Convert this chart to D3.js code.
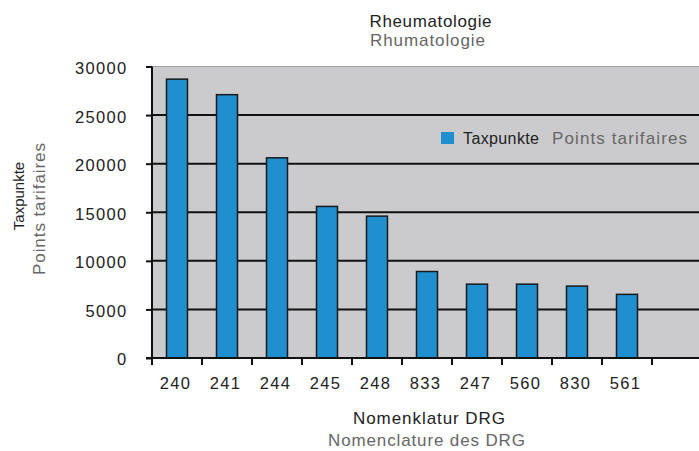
<!DOCTYPE html>
<html>
<head>
<meta charset="utf-8">
<script src="https://cdn.jsdelivr.net/npm/d3@7"></script>
<style>
  body { margin: 0; background: #fff; }
  text { font-family: "Liberation Sans", Arial, sans-serif; }
</style>
</head>
<body>
<div id="chart"></div>
<script>
// data
var drgCodes = ["240", "241", "244", "245", "248", "833", "247", "560", "830", "561"];
var taxpunkte = [28700, 27100, 20600, 15600, 14600, 8900, 7600, 7600, 7400, 6550];
var yTicks = [0, 5000, 10000, 15000, 20000, 25000, 30000];

var width = 699, height = 451;
var plotLeft = 152, plotRight = 699, plotTop = 66.5, plotBottom = 358;

var svg = d3.select("#chart")
    .append("svg")
    .attr("width", width)
    .attr("height", height);

var x = d3.scaleBand()
    .domain(drgCodes)
    .range([plotLeft, plotLeft + 500])
    .paddingInner(0.58)
    .paddingOuter(0.29);

var y = d3.scaleLinear()
    .domain([0, 30000])
    .range([plotBottom, plotTop]);

// plot background
svg.append("rect")
    .attr("x", plotLeft)
    .attr("y", plotTop)
    .attr("width", plotRight - plotLeft)
    .attr("height", plotBottom - plotTop)
    .attr("fill", "#cbcbcd");

svg.append("line")
    .attr("x1", plotLeft).attr("x2", plotRight)
    .attr("y1", plotTop).attr("y2", plotTop)
    .attr("stroke", "#a0a0a2").attr("stroke-width", 1);

// gridlines
svg.selectAll(".grid")
    .data(yTicks.filter(function (d) { return d > 0 && d < 30000; }))
    .enter()
    .append("line")
    .attr("class", "grid")
    .attr("x1", plotLeft).attr("x2", plotRight)
    .attr("y1", function (d) { return y(d); })
    .attr("y2", function (d) { return y(d); })
    .attr("stroke", "#111")
    .attr("stroke-width", 2);

// bars
svg.selectAll(".bar")
    .data(drgCodes)
    .enter()
    .append("rect")
    .attr("class", "bar")
    .attr("x", function (d) { return x(d); })
    .attr("y", function (d, i) { return y(taxpunkte[i]); })
    .attr("width", x.bandwidth())
    .attr("height", function (d, i) { return plotBottom - y(taxpunkte[i]); })
    .attr("fill", "#1f8fd0")
    .attr("stroke", "#1a1a1a")
    .attr("stroke-width", 1.5);

// y axis
var yAxis = svg.append("g")
    .attr("transform", "translate(" + plotLeft + ",0)")
    .call(d3.axisLeft(y).tickValues(yTicks).tickSize(6).tickPadding(18.5)
        .tickFormat(d3.format("d")));
yAxis.select(".domain").attr("stroke", "#111").attr("stroke-width", 2)
    .attr("d", "M0," + plotTop + "V" + plotBottom);
yAxis.selectAll(".tick line").attr("stroke", "#111").attr("stroke-width", 2);
yAxis.selectAll(".tick text")
    .attr("font-size", 16.5)
    .attr("dy", "0.42em")
    .attr("fill", "#222")
    .style("letter-spacing", "1.3px")
    .style("font-family", "Liberation Sans, Arial, sans-serif");

// x axis: ticks at band edges
var edges = drgCodes.map(function (d) { return x(d) - x.step() * 0.29; });
edges.push(plotLeft + 500);
var xAxis = svg.append("g");
xAxis.append("line")
    .attr("x1", plotLeft - 6).attr("x2", plotRight)
    .attr("y1", plotBottom).attr("y2", plotBottom)
    .attr("stroke", "#111").attr("stroke-width", 2);
xAxis.selectAll(".xt")
    .data(edges)
    .enter()
    .append("line")
    .attr("x1", function (d) { return d; })
    .attr("x2", function (d) { return d; })
    .attr("y1", plotBottom).attr("y2", plotBottom + 7)
    .attr("stroke", "#111").attr("stroke-width", 2);
xAxis.selectAll(".xl")
    .data(drgCodes)
    .enter()
    .append("text")
    .attr("x", function (d) { return x(d) + x.bandwidth() / 2 - 1.5; })
    .attr("y", 389)
    .attr("text-anchor", "middle")
    .attr("font-size", 16.5)
    .attr("fill", "#222")
    .style("letter-spacing", "1.3px")
    .text(function (d) { return d; });

// helper for fitted labels
function label(parent, xp, yp, txt, len, col, size) {
    var t = parent.append("text")
        .attr("x", xp).attr("y", yp)
        .attr("text-anchor", "middle")
        .attr("font-size", size || 17)
        .attr("fill", col)
        .text(txt);
    if (len) t.attr("textLength", len).attr("lengthAdjust", "spacing");
    return t;
}

// chart title
label(svg, 430.5, 27, "Rheumatologie", 122, "#222");
label(svg, 427.5, 45.5, "Rhumatologie", 115, "#666");

// x axis title
label(svg, 429, 424, "Nomenklatur DRG", 152, "#222");
label(svg, 426.5, 446, "Nomenclature des DRG", 197, "#666");

// y axis title
var yt = svg.append("g").attr("transform", "rotate(-90)");
label(yt, -196, 24, "Taxpunkte", null, "#222", 15);
label(yt, -209, 45, "Points tarifaires", 132, "#666");

// legend
svg.append("rect")
    .attr("x", 441).attr("y", 132)
    .attr("width", 13).attr("height", 12)
    .attr("fill", "#1f8fd0");
label(svg, 501, 143.5, "Taxpunkte", 76, "#222", 16);
label(svg, 619.5, 143.5, "Points tarifaires", 135, "#666");
</script>
</body>
</html>
